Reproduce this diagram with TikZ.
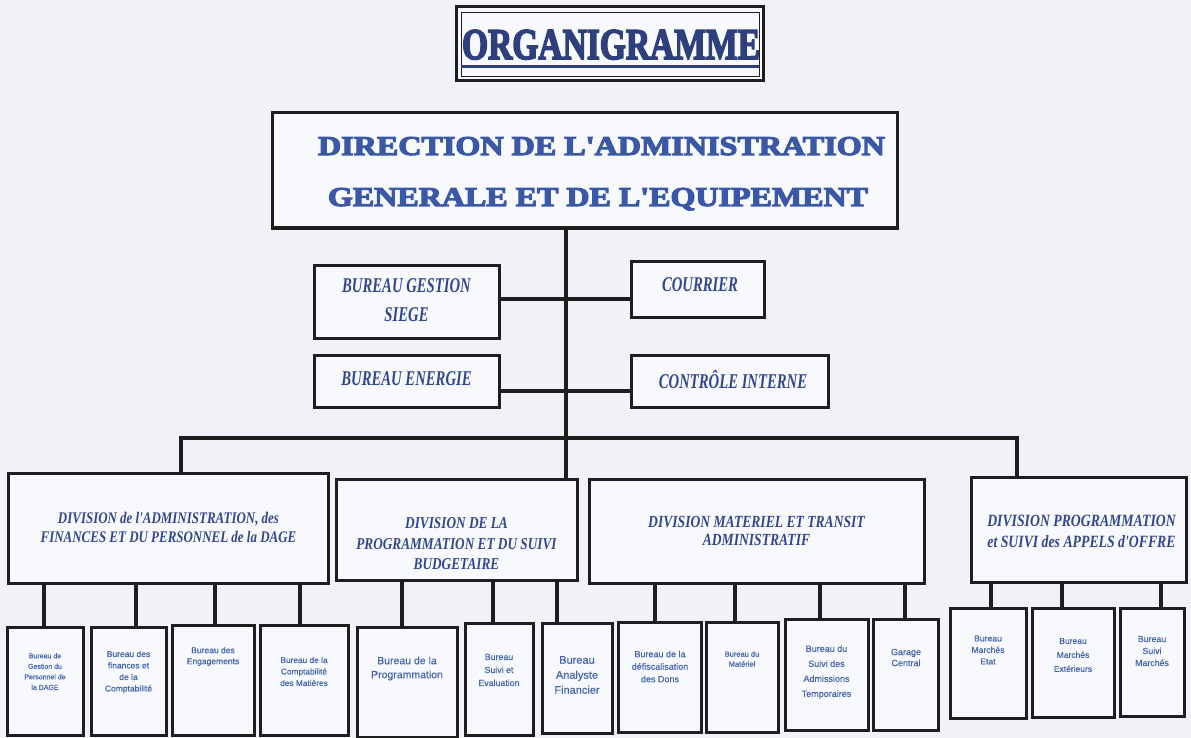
\documentclass[tikz,border=0pt]{standalone}
\usepackage{fontspec}
\usepackage{graphicx}
\setmainfont{Liberation Serif}
\newfontfamily\headfont[FakeBold=4]{Liberation Serif}
\newfontfamily\midfont[FakeStretch=0.7]{Liberation Serif}
\newfontfamily\divfont[FakeStretch=0.8]{Liberation Serif}
\newfontfamily\bsans[FakeBold=0.6]{Liberation Sans}
\definecolor{bgcol}{HTML}{F0F2F8}
\definecolor{boxfill}{HTML}{F8F9FC}
\definecolor{linecol}{HTML}{1E1E1E}
\definecolor{titleblue}{HTML}{2D3F7C}
\definecolor{headblue}{HTML}{3A58A6}
\definecolor{divblue}{HTML}{32468F}
\definecolor{smallblue}{HTML}{4766B0}
\newcommand{\orgbox}[5]{\node[box,minimum width={(#4-#2)*1pt},minimum height={(#5-#3)*1pt}] (#1) at ({(#2+#4)/2},{(#3+#5)/2}) {};}
\tikzset{
  box/.style={draw=linecol, line width=3pt, fill=boxfill, inner sep=0pt},
  link/.style={draw=linecol, line width=3.2pt},
  midtext/.style={text=divblue, align=center, inner sep=0pt, font={\midfont\bfseries\itshape\fontsize{21}{29}\selectfont}},
  divtext/.style={text=divblue, align=center, inner sep=0pt},
  btext/.style={text=smallblue, align=center, inner sep=0pt},
}
\begin{document}
\begin{tikzpicture}[x=1pt,y=-1pt]
\fill[bgcol] (0,0) rectangle (1191,738);
\useasboundingbox (0,0) rectangle (1191,738);

% title
\orgbox{title}{456.5}{6.5}{763.5}{80.5}
\draw[linecol, line width=0.8pt] (461,12) rectangle (759,76);
\node[anchor=base, inner sep=0pt, text=titleblue] (ttl) at (611,59) {\resizebox{298pt}{29pt}{\headfont\bfseries ORGANIGRAMME}};
\draw[titleblue, line width=2.5pt] (461,66.5) -- (759,66.5);

% main box
\orgbox{main}{272}{113}{897}{228}
\node[anchor=base, inner sep=0pt, text=headblue] (h1) at (601.5,155) {\resizebox{567pt}{18pt}{\headfont\bfseries DIRECTION DE L'ADMINISTRATION}};
\node[anchor=base, inner sep=0pt, text=headblue] (h2) at (598,206) {\resizebox{540pt}{18pt}{\headfont\bfseries GENERALE ET DE L'EQUIPEMENT}};

% middle boxes
\orgbox{bgs}{314.5}{265.5}{499}{338}
\orgbox{cour}{631}{261}{764}{317}
\orgbox{ben}{314.5}{355}{499}{407}
\orgbox{ci}{631}{355}{828}{407}
\node[midtext] (tbgs) at (406.5,300.5) {BUREAU GESTION\\SIEGE};
\node[midtext] (tcour) at (700,284.5) {COURRIER};
\node[midtext] (tben) at (406.5,379) {BUREAU ENERGIE};
\node[midtext] (tci) at (733,379) {CONTRÔLE INTERNE};

% divisions
\orgbox{d1}{8}{473}{328}{583}
\orgbox{d2}{336}{479}{577}{580}
\orgbox{d3}{589}{479}{924}{583}
\orgbox{d4}{971.5}{477}{1186.5}{582}
\node[divtext, font={\divfont\bfseries\itshape\fontsize{16.2}{19}\selectfont}] (td1) at (168.5,527.5) {DIVISION de l'ADMINISTRATION, des\\FINANCES ET DU PERSONNEL de la DAGE};
\node[divtext, font={\divfont\bfseries\itshape\fontsize{16.6}{20.5}\selectfont}] (td2) at (456.5,544) {DIVISION DE LA\\PROGRAMMATION ET DU SUIVI\\BUDGETAIRE};
\node[divtext, font={\divfont\bfseries\itshape\fontsize{17}{18.5}\selectfont}] (td3) at (756.5,531) {DIVISION MATERIEL ET TRANSIT\\ADMINISTRATIF};
\node[divtext, font={\divfont\bfseries\itshape\fontsize{17.2}{21}\selectfont}] (td4) at (1081.5,531.5) {DIVISION PROGRAMMATION\\et SUIVI des APPELS d'OFFRE};

% bottom boxes
\orgbox{b1}{7}{627}{83}{735}
\orgbox{b2}{91}{627}{166}{735}
\orgbox{b3}{172}{625}{254}{735}
\orgbox{b4}{260}{625}{348}{735}
\orgbox{b5}{357}{627}{457}{737}
\orgbox{b6}{465}{623}{533}{735}
\orgbox{b7}{542}{623}{612}{733}
\orgbox{b8}{618}{622}{701}{732}
\orgbox{b9}{706}{622}{778}{732}
\orgbox{b10}{785}{619}{868}{730}
\orgbox{b11}{873}{619}{938}{730}
\orgbox{b12}{950}{608}{1026}{718}
\orgbox{b13}{1032}{608}{1114}{717}
\orgbox{b14}{1120}{608}{1184}{716}

\node[btext, font={\bsans\fontsize{7}{10.5}\selectfont}] (tb1) at (45,671.5) {Bureau de\\Gestion du\\Personnel de\\la DAGE};
\node[btext, font={\bsans\fontsize{8.5}{11.5}\selectfont}] (tb2) at (128.5,672) {Bureau des\\finances et\\de la\\Comptabilité};
\node[btext, font={\bsans\fontsize{8.5}{11}\selectfont}] (tb3) at (213,656.5) {Bureau des\\Engagements};
\node[btext, font={\bsans\fontsize{8.3}{11.5}\selectfont}] (tb4) at (304,671.5) {Bureau de la\\Comptabilité\\des Matières};
\node[btext, font={\bsans\fontsize{10.5}{14}\selectfont}] (tb5) at (407,668.5) {Bureau de la\\Programmation};
\node[btext, font={\bsans\fontsize{8.8}{13}\selectfont}] (tb6) at (499,670) {Bureau\\Suivi et\\Evaluation};
\node[btext, font={\bsans\fontsize{11}{15}\selectfont}] (tb7) at (577,675) {Bureau\\Analyste\\Financier};
\node[btext, font={\bsans\fontsize{9}{12.5}\selectfont}] (tb8) at (660,666.5) {Bureau de la\\défiscalisation\\des Dons};
\node[btext, font={\bsans\fontsize{7.5}{10}\selectfont}] (tb9) at (742,659) {Bureau du\\Matériel};
\node[btext, font={\bsans\fontsize{9}{15}\selectfont}] (tb10) at (826.5,672) {Bureau du\\Suivi des\\Admissions\\Temporaires};
\node[btext, font={\bsans\fontsize{9}{11}\selectfont}] (tb11) at (906,657.5) {Garage\\Central};
\node[btext, font={\bsans\fontsize{8.6}{11.5}\selectfont}] (tb12) at (988,650) {Bureau\\Marchés\\Etat};
\node[btext, font={\bsans\fontsize{8.5}{14}\selectfont}] (tb13) at (1073,655) {Bureau\\Marchés\\Extérieurs};
\node[btext, font={\bsans\fontsize{8.8}{12}\selectfont}] (tb14) at (1152,651) {Bureau\\Suivi\\Marchés};

% connectors
\coordinate (busL) at (181,438);
\coordinate (busR) at (1017,438);
\draw[link] (main.south -| 566,0) -- (d2.north -| 566,0);
\draw[link] (bgs.east |- 0,299) -- (cour.west |- 0,299);
\draw[link] (ben.east |- 0,391) -- (ci.west |- 0,391);
\draw[link] ([xshift=-1.6pt]busL) -- ([xshift=1.6pt]busR);
\draw[link] (busL) -- (d1.north -| busL);
\draw[link] (busR) -- (d4.north -| busR);

\foreach \xx/\bb in {44/b1,136/b2,215/b3,300/b4}
  \draw[link] (d1.south -| \xx,0) -- (\bb.north -| \xx,0);
\foreach \xx/\bb in {402/b5,493/b6,557/b7}
  \draw[link] (d2.south -| \xx,0) -- (\bb.north -| \xx,0);
\foreach \xx/\bb in {655/b8,735/b9,820/b10,905/b11}
  \draw[link] (d3.south -| \xx,0) -- (\bb.north -| \xx,0);
\foreach \xx/\bb in {991/b12,1062/b13,1161/b14}
  \draw[link] (d4.south -| \xx,0) -- (\bb.north -| \xx,0);
\end{tikzpicture}
\end{document}
